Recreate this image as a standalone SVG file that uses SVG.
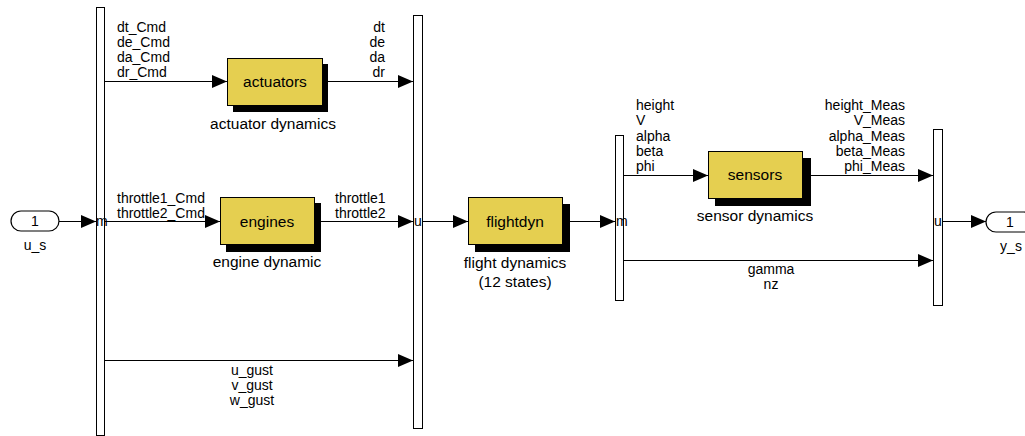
<svg xmlns="http://www.w3.org/2000/svg" width="1025" height="436" viewBox="0 0 1025 436">
<style>
text{font-family:"Liberation Sans",Arial,sans-serif;fill:#000}
.p{font-size:14px}
.c{font-size:15.5px;text-anchor:middle}
.m{text-anchor:middle}
.e{text-anchor:end}
.bar{fill:#fff;stroke:#000;stroke-width:1}
.blk{fill:#E5CF50;stroke:#000;stroke-width:1}
.sh{fill:#000}
.w{fill:none;stroke:#000;stroke-width:1.2;marker-end:url(#ah)}
.port{fill:#fff;stroke:#000;stroke-width:1.2}
</style>
<defs>
<marker id="ah" markerUnits="userSpaceOnUse" markerWidth="15" markerHeight="13" refX="15" refY="6.5" orient="auto">
<path d="M0,0 L15,6.5 L0,13 z" fill="#000"/>
</marker>
</defs>
<rect width="1025" height="436" fill="#fff"/>
<g id="connectors">
<path class="w" d="M59,221.5 H96"/>
<path class="w" d="M105,81.5 H227"/>
<path class="w" d="M105,221.5 H220"/>
<path class="w" d="M105,360.5 H413"/>
<path class="w" d="M322,81.5 H413"/>
<path class="w" d="M314,221.5 H413"/>
<path class="w" d="M423,221.5 H468"/>
<path class="w" d="M562,221.5 H615"/>
<path class="w" d="M624,175.5 H708"/>
<path class="w" d="M624,260.5 H933"/>
<path class="w" d="M802,175.5 H933"/>
<path class="w" d="M942,221.5 H986"/>
</g>
<g id="inport_u_s">
<rect class="port" x="11" y="211" width="48" height="20" rx="10"/>
<text class="p m" x="35" y="226">1</text>
<text class="p m" x="35" y="250">u_s</text>
</g>
<g id="demux1">
<rect class="bar" x="96.5" y="7.5" width="8" height="428"/>
<text class="p" x="96" y="226">m</text>
<text class="p" x="117" y="32">dt_Cmd</text>
<text class="p" x="117" y="47">de_Cmd</text>
<text class="p" x="117" y="62">da_Cmd</text>
<text class="p" x="117" y="77">dr_Cmd</text>
<text class="p" x="117" y="203">throttle1_Cmd</text>
<text class="p" x="117" y="218">throttle2_Cmd</text>
<text class="p m" x="252" y="375">u_gust</text>
<text class="p m" x="252" y="390">v_gust</text>
<text class="p m" x="252" y="405">w_gust</text>
</g>
<g id="actuators">
<rect class="sh" x="233" y="64" width="95" height="48"/>
<rect class="blk" x="227.5" y="58.5" width="95" height="47"/>
<text class="c" x="275" y="87">actuators</text>
<text class="c" x="273" y="129">actuator dynamics</text>
<text class="p e" x="385" y="32">dt</text>
<text class="p e" x="385" y="47">de</text>
<text class="p e" x="385" y="62">da</text>
<text class="p e" x="385" y="77">dr</text>
</g>
<g id="engines">
<rect class="sh" x="226" y="203" width="95" height="49"/>
<rect class="blk" x="220.5" y="197.5" width="94" height="47"/>
<text class="c" x="267" y="227">engines</text>
<text class="c" x="267" y="267">engine dynamic</text>
<text class="p" x="335" y="203">throttle1</text>
<text class="p" x="335" y="218">throttle2</text>
</g>
<g id="mux1">
<rect class="bar" x="413.5" y="15.5" width="9" height="413"/>
<text class="p" x="414" y="226">u</text>
</g>
<g id="flightdyn">
<rect class="sh" x="475" y="204" width="95" height="48"/>
<rect class="blk" x="468.5" y="197.5" width="94" height="47"/>
<text class="c" x="515" y="227">flightdyn</text>
<text class="c" x="515" y="268">flight dynamics</text>
<text class="c" x="515" y="287">(12 states)</text>
</g>
<g id="demux2">
<rect class="bar" x="615.5" y="135.5" width="8" height="165"/>
<text class="p" x="616" y="226">m</text>
<text class="p" x="636" y="110">height</text>
<text class="p" x="636" y="125">V</text>
<text class="p" x="636" y="141">alpha</text>
<text class="p" x="636" y="156">beta</text>
<text class="p" x="636" y="171">phi</text>
<text class="p m" x="771" y="274">gamma</text>
<text class="p m" x="771" y="289">nz</text>
</g>
<g id="sensors">
<rect class="sh" x="715" y="158" width="96" height="48"/>
<rect class="blk" x="708.5" y="151.5" width="94" height="47"/>
<text class="c" x="755" y="180">sensors</text>
<text class="c" x="755" y="221">sensor dynamics</text>
<text class="p e" x="905" y="110">height_Meas</text>
<text class="p e" x="905" y="125">V_Meas</text>
<text class="p e" x="905" y="141">alpha_Meas</text>
<text class="p e" x="905" y="156">beta_Meas</text>
<text class="p e" x="905" y="171">phi_Meas</text>
</g>
<g id="mux2">
<rect class="bar" x="933.5" y="129.5" width="9" height="176"/>
<text class="p" x="934" y="226">u</text>
</g>
<g id="outport_y_s">
<rect class="port" x="986" y="212" width="48" height="20" rx="10"/>
<text class="p m" x="1010" y="227">1</text>
<text class="p m" x="1011" y="251">y_s</text>
</g>
</svg>
